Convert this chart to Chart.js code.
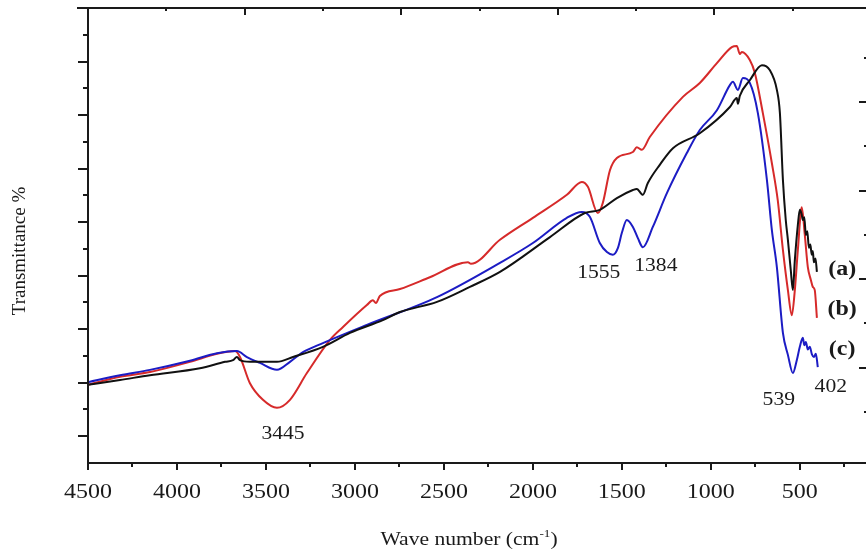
<!DOCTYPE html>
<html><head><meta charset="utf-8">
<script src="https://cdn.jsdelivr.net/npm/chart.js@4.4.1/dist/chart.umd.min.js"></script>
<style>html,body{margin:0;padding:0;background:#fff;overflow:hidden;width:866px;height:550px}canvas{display:block}</style>
</head><body><canvas id="c" width="871" height="550"></canvas>
<script>
// ---- data (wave number in cm-1, transmittance in arbitrary units) ----
const xTickLabels = [4500, 4000, 3500, 3000, 2500, 2000, 1500, 1000, 500];

const aWave = [4500,4320,4152,3871,3730,3685,3663,3646,3590,3438,3348,3180,3028,2843,2747,2539,2354,2185,1904,1708,1624,1528,1438,1416,1382,1354,1287,1213,1062,893,854,848,837,781,713,669,629,612,595,579,567,551,539,528,511,500,490,483,475,466,458,449,441,433,427,421,412,404];
const aT    = [14.6,15.5,16.4,17.7,18.9,19.2,19.8,19.2,18.9,18.9,19.8,21.7,24.3,26.7,28.2,30.1,32.9,35.7,42.2,46.7,47.3,49.5,51.0,51.2,50.1,52.3,55.7,58.8,61.6,66.5,68.2,67.1,68.6,71.5,74.3,73.4,69.7,65.4,52.9,45.4,41.7,36.1,32.3,37.9,44.5,47.3,46.5,45.4,45.9,42.6,43.3,40.2,40.8,38.9,39.6,37.5,38.2,35.7];

const bWave = [4500,4320,4152,3927,3775,3674,3646,3590,3517,3438,3365,3270,3140,3067,2933,2899,2882,2860,2747,2579,2365,2348,2185,2000,1809,1725,1691,1635,1607,1567,1528,1438,1416,1388,1343,1157,1062,966,882,854,837,826,781,753,708,657,624,595,567,545,528,511,489,472,455,438,427,416,404];
const bT    = [14.6,16.1,17.0,18.9,20.4,20.9,19.8,14.9,11.8,10.3,11.8,16.8,23.0,25.4,29.5,30.4,29.9,31.2,32.5,34.7,37.5,37.2,41.7,45.8,50.1,52.5,51.6,46.7,48.6,54.7,57.0,58.1,59.0,58.5,60.9,68.4,71.0,74.7,77.7,77.9,76.4,76.8,75.3,72.9,65.4,56.0,49.1,39.8,32.3,27.6,32.3,39.8,47.8,42.6,36.6,34.2,32.9,32.3,27.1];

const cWave = [4500,4320,4152,3927,3775,3663,3607,3534,3438,3365,3292,3180,2933,2539,2185,2000,1809,1725,1680,1624,1584,1551,1522,1500,1472,1438,1410,1382,1326,1247,1135,1062,966,893,876,848,820,781,736,685,657,629,595,567,539,517,500,483,475,466,455,444,432,421,410,399];
const cT    = [15.1,16.4,17.4,19.1,20.5,20.9,19.8,18.7,17.4,18.9,20.7,22.4,25.8,31.0,37.4,41.1,45.8,46.9,46.0,41.1,39.4,38.9,40.2,43.0,45.4,44.1,42.0,40.3,44.1,50.4,57.9,62.2,65.9,70.6,71.2,69.7,71.9,71.0,65.4,52.9,43.5,36.6,24.3,20.2,16.8,19.2,21.7,23.4,22.0,22.6,21.2,21.7,20.3,19.8,20.4,17.9];

// peak annotations (anchored in data units)
const peakText = ['3445', '1555', '1384', '539', '402'];
const peakWave = [3404, 1630, 1309, 618, 326];
const peakT    = [5.4, 35.5, 36.8, 11.8, 14.2];

const sampleText = ['(a)', '(b)', '(c)'];
const sampleWave = [262, 262, 262];
const sampleT    = [36.1, 28.6, 21.1];

const rightTicks = [9.5, 17.8, 26.1, 34.4, 42.6, 50.9, 59.2, 67.4, 75.7];

// ---- drawing ----
const SERIF = '"Liberation Serif","Times New Roman",serif';
const INK = '#1a1a1a';

function sText(ctx, txt, x, y, font, sx, align) {
  ctx.save();
  ctx.font = font;
  ctx.translate(x, y);
  ctx.scale(sx, 1);
  ctx.textAlign = align || 'center';
  ctx.textBaseline = 'middle';
  ctx.fillText(txt, 0, 0);
  ctx.restore();
}

const decor = {
  id: 'decor',
  afterDraw(chart) {
    const ctx = chart.ctx, a = chart.chartArea, x = chart.scales.x, y = chart.scales.y;
    ctx.save();
    ctx.strokeStyle = INK; ctx.fillStyle = INK; ctx.lineWidth = 2;
    ctx.beginPath();
    ctx.moveTo(77, a.top); ctx.lineTo(a.right, a.top);
    ctx.moveTo(a.left, a.top); ctx.lineTo(a.left, a.bottom + 4);
    ctx.moveTo(a.left, a.bottom); ctx.lineTo(a.right, a.bottom);
    ctx.moveTo(a.right, a.top); ctx.lineTo(a.right, a.bottom);
    ctx.stroke();
    ctx.beginPath();
    // bottom ticks (every 250)
    for (let v = 4500; v >= x.min; v -= 250) {
      const px = Math.round(x.getPixelForValue(v));
      const len = (v % 500 === 0) ? 7 : 4;
      ctx.moveTo(px, a.bottom); ctx.lineTo(px, a.bottom + len);
    }
    // top ticks (inward)
    for (let k = 1; k < 10; k++) {
      const px = Math.round(x.getPixelForValue(4500 - 440 * k));
      const len = (k % 2 === 0) ? 7 : 3;
      ctx.moveTo(px, a.top); ctx.lineTo(px, a.top + len);
    }
    // left ticks (outward)
    for (let v = 5; v < y.max; v += 5) {
      const py = Math.round(y.getPixelForValue(v));
      const len = ((v / 5) % 2 === 1) ? 10 : 5;
      ctx.moveTo(a.left, py); ctx.lineTo(a.left - len, py);
    }
    // right ticks (inward)
    rightTicks.forEach((v, i) => {
      const py = Math.round(y.getPixelForValue(v));
      const len = (i % 2 === 1) ? 12 : 7;
      ctx.moveTo(a.right, py); ctx.lineTo(a.right - len, py);
    });
    ctx.stroke();

    // x tick labels
    x.ticks.forEach(t => {
      sText(ctx, String(t.value), x.getPixelForValue(t.value), 493, '20px ' + SERIF, 1.2);
    });

    // peak labels
    peakText.forEach((t, i) => {
      sText(ctx, t, x.getPixelForValue(peakWave[i]), y.getPixelForValue(peakT[i]), '18px ' + SERIF, 1.2);
    });
    sampleText.forEach((t, i) => {
      sText(ctx, t, x.getPixelForValue(sampleWave[i]), y.getPixelForValue(sampleT[i]), 'bold 20px ' + SERIF, 1.2);
    });

    // x axis title with superscript
    const f1 = '18px ' + SERIF, f2 = '11px ' + SERIF, sx = 1.2;
    ctx.font = f1;
    const w1 = ctx.measureText('Wave number (cm').width;
    const w3 = ctx.measureText(')').width;
    ctx.font = f2;
    const w2 = ctx.measureText('-1').width;
    const total = (w1 + w2 + w3) * sx;
    let cx = 469 - total / 2;
    const ty = 540;
    sText(ctx, 'Wave number (cm', cx, ty, f1, sx, 'left'); cx += w1 * sx;
    sText(ctx, '-1', cx, ty - 6, f2, sx, 'left'); cx += w2 * sx;
    sText(ctx, ')', cx, ty, f1, sx, 'left');

    // y axis title
    ctx.save();
    ctx.translate(20, 251);
    ctx.rotate(-Math.PI / 2);
    ctx.font = '19px ' + SERIF;
    ctx.textAlign = 'center'; ctx.textBaseline = 'middle';
    ctx.fillText('Transmittance %', 0, 0);
    ctx.restore();
    ctx.restore();
  }
};

const mk = (w, t) => w.map((v, i) => ({ x: v, y: t[i] }));
const lineStyle = { showLine: true, borderWidth: 2, pointRadius: 0, cubicInterpolationMode: 'monotone', borderJoinStyle: 'round' };

new Chart(document.getElementById('c'), {
  type: 'scatter',
  data: {
    datasets: [
      Object.assign({ label: '(a)', data: mk(aWave, aT), borderColor: '#111111', order: 1 }, lineStyle),
      Object.assign({ label: '(b)', data: mk(bWave, bT), borderColor: '#d62a2a', order: 3 }, lineStyle),
      Object.assign({ label: '(c)', data: mk(cWave, cT), borderColor: '#1c1cc4', order: 2 }, lineStyle)
    ]
  },
  options: {
    responsive: false, animation: false, devicePixelRatio: 1,
    layout: { padding: { top: 8, left: 0, right: 0, bottom: 0 } },
    plugins: { legend: { display: false }, tooltip: { enabled: false } },
    scales: {
      x: {
        type: 'linear', reverse: true, min: 100, max: 4500, position: 'bottom',
        grid: { display: false, drawTicks: false }, border: { display: false },
        ticks: { display: false },
        afterBuildTicks(s) { s.ticks = xTickLabels.map(v => ({ value: v })); },
        afterFit(s) { s.height = 87; }
      },
      y: {
        type: 'linear', min: 0, max: 85,
        grid: { display: false, drawTicks: false }, border: { display: false },
        ticks: { display: false },
        afterFit(s) { s.width = 88; }
      }
    }
  },
  plugins: [decor]
});
</script>
</body></html>
